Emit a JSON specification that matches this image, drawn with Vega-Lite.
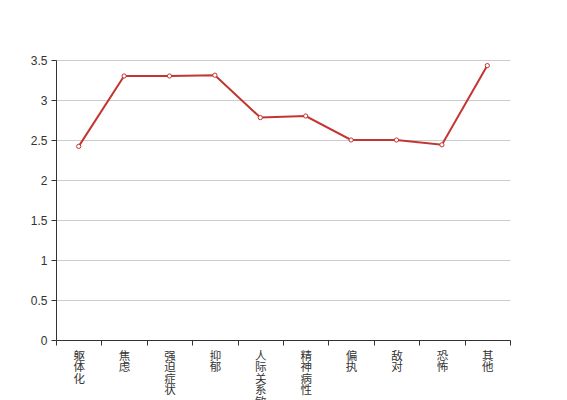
{
  "$schema": "https://vega.github.io/schema/vega-lite/v6.json",
  "autosize": {"type": "none"},
  "padding": {"left": 56, "top": 60, "right": 57, "bottom": 60},
  "width": 454,
  "height": 280,
  "background": "white",
  "data": {"values": [
    {"factor": "躯体化", "score": 2.42},
    {"factor": "焦虑", "score": 3.30},
    {"factor": "强迫症状", "score": 3.30},
    {"factor": "抑郁", "score": 3.31},
    {"factor": "人际关系敏感", "score": 2.78},
    {"factor": "精神病性", "score": 2.80},
    {"factor": "偏执", "score": 2.50},
    {"factor": "敌对", "score": 2.50},
    {"factor": "恐怖", "score": 2.44},
    {"factor": "其他", "score": 3.43}
  ]},
  "config": {
    "view": {"stroke": null},
    "font": "Liberation Sans"
  },
  "encoding": {
    "x": {
      "field": "factor", "type": "nominal", "sort": null,
      "scale": {"paddingInner": 0, "paddingOuter": 0},
      "axis": {
        "title": null, "labelAngle": 0, "labelAlign": "center", "labelBaseline": "top",
        "labelExpr": "split(datum.label, '')", "labelLineHeight": 11.5, "labelFontSize": 11.5,
        "labelFont": "Noto Sans CJK SC",
        "labelColor": "#333", "labelPadding": 5, "tickBand": "extent", "tickSize": 5,
        "tickColor": "#333", "domainColor": "#333", "grid": false, "labelOverlap": false
      }
    },
    "y": {
      "field": "score", "type": "quantitative",
      "scale": {"domain": [0, 3.5], "nice": false},
      "axis": {
        "title": null, "values": [0, 0.5, 1, 1.5, 2, 2.5, 3, 3.5], "labelFontSize": 12,
        "labelExpr": "'' + datum.value",
        "labelColor": "#333", "tickColor": "#333", "domainColor": "#333", "tickSize": 5,
        "gridColor": "#ccc", "labelPadding": 4
      }
    }
  },
  "layer": [
    {"mark": {"type": "line", "color": "#c23531", "strokeWidth": 2}},
    {"mark": {"type": "point", "filled": true, "fill": "white", "stroke": "#c23531", "strokeWidth": 1, "size": 18, "opacity": 1}}
  ]
}
